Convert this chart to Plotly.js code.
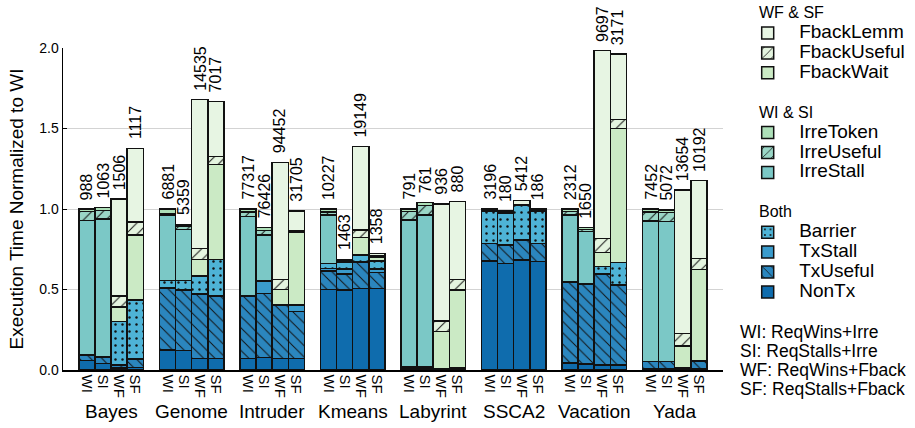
<!DOCTYPE html>
<html>
<head>
<meta charset="utf-8">
<script src="https://cdn.plot.ly/plotly-3.0.1.min.js"></script>
<style>
  html, body { margin: 0; padding: 0; background: #fff; }
  #chart { width: 915px; height: 428px; }
</style>
</head>
<body>
<div id="chart"></div>
<script>
// Benchmarks and the four configurations run for each one
const benchmarks = ["Bayes", "Genome", "Intruder", "Kmeans", "Labyrint", "SSCA2", "Vacation", "Yada"];
const configs = ["WI", "SI", "WF", "SF"];

// Execution-time breakdown, normalized to WI; 4 values per benchmark (WI, SI, WF, SF)
const nonTx = [
  0.060, 0.040, 0.012, 0.015,   0.124, 0.120, 0.072, 0.072,   0.072, 0.079, 0.072, 0.072,   0.500, 0.497, 0.505, 0.507,
  0.010, 0.010, 0.005, 0.008,   0.677, 0.662, 0.683, 0.673,   0.045, 0.037, 0.031, 0.031,   0.008, 0.008, 0.008, 0.010];
const txUseful = [
  0.030, 0.040, 0.015, 0.050,   0.383, 0.375, 0.400, 0.384,   0.385, 0.397, 0.330, 0.290,   0.115, 0.099, 0.165, 0.099,
  0.010, 0.010, 0.005, 0.009,   0.110, 0.114, 0.124, 0.114,   0.500, 0.498, 0.562, 0.494,   0.044, 0.044, 0.006, 0.046];
const txStall = [
  0.005, 0.005, 0.004, 0.004,   0.005, 0.005, 0.004, 0.004,   0.003, 0.077, 0.005, 0.042,   0.015, 0.031, 0.003, 0.021,
  0, 0, 0, 0,                   0, 0, 0, 0,                   0.003, 0.003, 0.003, 0.003,   0, 0, 0, 0.004];
const barrier = [
  0, 0, 0.270, 0.366,           0.045, 0.055, 0.108, 0.227,   0, 0, 0, 0,                   0.032, 0.045, 0.040, 0.050,
  0, 0, 0, 0,                   0.200, 0.200, 0.215, 0.200,   0, 0, 0.046, 0.139,           0, 0, 0, 0];
const irreStall = [
  0.835, 0.853, 0, 0,           0.405, 0.318, 0, 0,           0.492, 0.286, 0, 0,           0.300, 0.005, 0, 0,
  0.912, 0.943, 0, 0,           0.005, 0.004, 0, 0,           0.415, 0.321, 0, 0,           0.875, 0.871, 0, 0];
const irreUseful = [
  0.055, 0.052, 0, 0,           0.010, 0.022, 0, 0,           0.030, 0.028, 0, 0,           0.020, 0.005, 0, 0,
  0.053, 0.060, 0, 0,           0.004, 0.004, 0, 0,           0.020, 0.015, 0, 0,           0.055, 0.055, 0, 0];
const irreToken = [
  0.015, 0.020, 0, 0,           0.028, 0.010, 0, 0,           0.018, 0.017, 0, 0,           0.018, 0.005, 0, 0,
  0.015, 0.017, 0, 0,           0.004, 0.004, 0, 0,           0.017, 0.010, 0, 0,           0.018, 0.016, 0, 0];
const fbackWait = [
  0, 0, 0.090, 0.405,           0, 0, 0.103, 0.590,           0, 0, 0.093, 0.449,           0, 0, 0.110, 0.022,
  0, 0, 0.228, 0.480,           0, 0, 0.002, 0.004,           0, 0, 0.087, 0.834,           0, 0, 0.135, 0.565];
const fbackUseful = [
  0, 0, 0.070, 0.080,           0, 0, 0.068, 0.048,           0, 0, 0.063, 0.010,           0, 0, 0.046, 0.010,
  0, 0, 0.066, 0.066,           0, 0, 0.001, 0.004,           0, 0, 0.088, 0.056,           0, 0, 0.079, 0.069];
const fbackLemm = [
  0, 0, 0.600, 0.457,           0, 0, 0.925, 0.342,           0, 0, 0.726, 0.125,           0, 0, 0.520, 0.015,
  0, 0, 0.727, 0.483,           0, 0, 0.027, 0.005,           0, 0, 1.166, 0.406,           0, 0, 0.890, 0.482];

// Count printed above each bar
const barCounts = [
  988, 1063, 1506, 1117,        6881, 5359, 14535, 7017,      77317, 76426, 94452, 31705,   10227, 1463, 19149, 1358,
  791, 761, 936, 880,           3196, 180, 5412, 186,         2312, 1650, 9697, 3171,       7452, 5072, 13654, 10192];

const configNotes = ["WI: ReqWins+Irre", "SI: ReqStalls+Irre", "WF: ReqWins+Fback", "SF: ReqStalls+Fback"];

const FONT = '"Liberation Sans", Arial, Helvetica, sans-serif';
const INK = "#111";

// x position of every bar: one empty slot between benchmark groups
const xPos = [];
const tickText = [];
benchmarks.forEach((b, g) => configs.forEach((c, k) => { xPos.push(g * 5 + k + 1); tickText.push(c); }));

// Stacked components, bottom to top
const components = [
  { name: "NonTx",       y: nonTx,       color: "#0f6cad", shape: "",   group: "both",  title: "Both" },
  { name: "TxUseful",    y: txUseful,    color: "#2b86be", shape: "\\", group: "both",  title: "Both" },
  { name: "TxStall",     y: txStall,     color: "#3a9bcc", shape: "",   group: "both",  title: "Both" },
  { name: "Barrier",     y: barrier,     color: "#4eb3d6", shape: ".",  group: "both",  title: "Both" },
  { name: "IrreStall",   y: irreStall,   color: "#7bc8c6", shape: "",   group: "irre",  title: "WI & SI" },
  { name: "IrreUseful",  y: irreUseful,  color: "#9ad6c6", shape: "/",  group: "irre",  title: "WI & SI" },
  { name: "IrreToken",   y: irreToken,   color: "#addfb8", shape: "",   group: "irre",  title: "WI & SI" },
  { name: "FbackWait",   y: fbackWait,   color: "#cbeac5", shape: "",   group: "fback", title: "WF & SF" },
  { name: "FbackUseful", y: fbackUseful, color: "#e4f4df", shape: "/",  group: "fback", title: "WF & SF" },
  { name: "FbackLemm",   y: fbackLemm,   color: "#e7f5e3", shape: "",   group: "fback", title: "WF & SF" }
];

const traces = components.map((c, i) => ({
  type: "bar",
  // legend text is drawn larger than the legend base font so rows stay compact
  name: '<span style="font-size:19px">' + c.name + '</span>',
  x: xPos,
  y: c.y,
  width: 1,
  legendgroup: c.group,
  legendrank: components.length - i,
  legendgrouptitle: {
    text: '<span style="font-size:16px">\u00a0\u00a0\u00a0\u00a0' + c.title + '</span>',
    font: { family: FONT, size: 13, color: "#000" }
  },
  hoverinfo: "skip",
  marker: {
    color: c.color,
    line: { color: INK, width: 1.5 },
    pattern: c.shape
      ? { shape: c.shape, fillmode: "replace", bgcolor: c.color, fgcolor: INK,
          size: c.shape === "." ? 7 : 8, solidity: c.shape === "." ? 0.1 : 0.12 }
      : { shape: "" }
  }
}));

// Stack totals for placing the count labels
const totals = xPos.map((_, i) => components.reduce((s, c) => s + c.y[i], 0));

const annotations = [];
xPos.forEach((x, i) => annotations.push({
  x: x, y: totals[i], xref: "x", yref: "y",
  text: String(barCounts[i]), textangle: -90, showarrow: false,
  xanchor: "center", yanchor: "bottom", yshift: 7,
  font: { family: FONT, size: 16, color: "#000" }
}));
benchmarks.forEach((b, g) => annotations.push({
  x: g * 5 + 2.5, y: 0, xref: "x", yref: "y",
  text: b, showarrow: false, xanchor: "center", yanchor: "middle", yshift: -41,
  font: { family: FONT, size: 19, color: "#000" }
}));
configNotes.forEach((t, i) => annotations.push({
  x: 1.023, y: 0.118 - i * 0.059, xref: "paper", yref: "paper",
  text: t, showarrow: false, xanchor: "left", yanchor: "middle",
  font: { family: FONT, size: 17.5, color: "#000" }
}));

const layout = {
  width: 915, height: 428,
  margin: { l: 63, r: 192, t: 48, b: 58, autoexpand: false },
  paper_bgcolor: "#fff", plot_bgcolor: "#fff",
  barmode: "stack",
  font: { family: FONT, color: "#000" },
  showlegend: true,
  legend: {
    x: 1.02, y: 0.675, xanchor: "left", yanchor: "middle",
    traceorder: "grouped",
    tracegroupgap: 20,
    itemwidth: 53,
    font: { family: FONT, size: 13, color: "#000" },
    bgcolor: "rgba(0,0,0,0)"
  },
  xaxis: {
    range: [-0.49, 40.5],
    tickmode: "array", tickvals: xPos, ticktext: tickText,
    tickangle: 90, ticks: "", showgrid: false, zeroline: false,
    showline: true, linecolor: "#000", linewidth: 1.5,
    tickfont: { family: FONT, size: 15, color: "#000" }
  },
  yaxis: {
    range: [0, 2], tickvals: [0, 0.5, 1, 1.5, 2], tickformat: ".1f",
    ticks: "inside", ticklen: 4, tickcolor: "#000",
    showgrid: true, gridcolor: "#d3d3d3", gridwidth: 1, zeroline: false,
    showline: true, linecolor: "#000", linewidth: 1.5,
    tickfont: { family: FONT, size: 14, color: "#000" },
    title: { text: "Execution Time Normalized to WI", font: { family: FONT, size: 19, color: "#000" }, standoff: 10 }
  },
  annotations: annotations
};

Plotly.newPlot("chart", traces, layout, { displayModeBar: false, staticPlot: true });
</script>
</body>
</html>
